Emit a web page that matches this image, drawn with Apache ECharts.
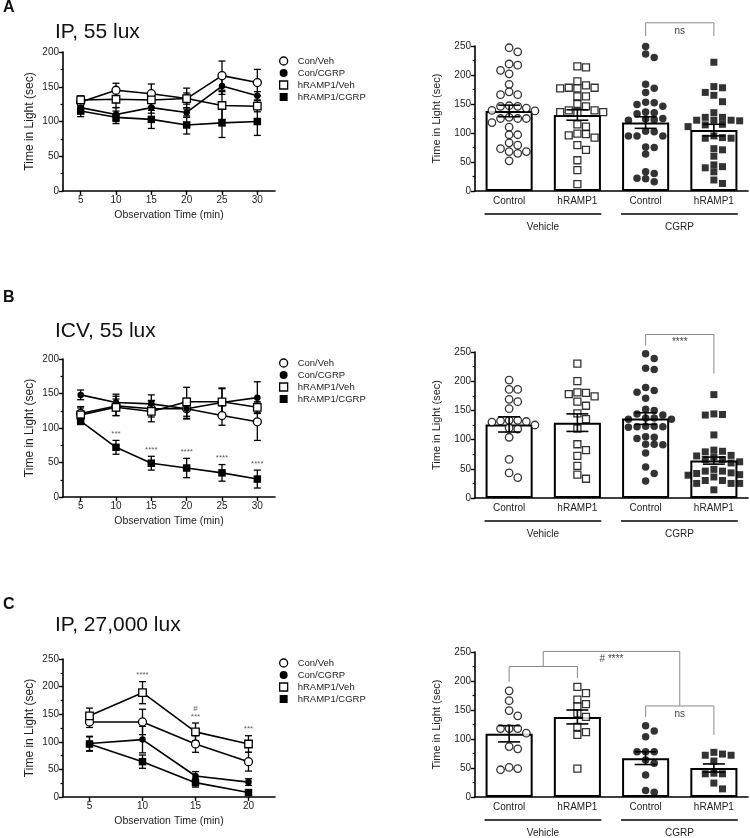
<!DOCTYPE html>
<html><head><meta charset="utf-8">
<script src="https://cdn.jsdelivr.net/npm/echarts@6/dist/echarts.min.js"></script>
<style>html,body{margin:0;padding:0;background:#fff}#c{width:750px;height:838px}</style>
</head><body><div id="c"></div>
<script>
// ================= DATA =================
const panelLetters = ['A', 'B', 'C'];
const panelTitles = ['IP, 55 lux', 'ICV, 55 lux', 'IP, 27,000 lux'];
const seriesNames = ['Con/Veh', 'Con/CGRP', 'hRAMP1/Veh', 'hRAMP1/CGRP'];
const barCategories = ['Control', 'hRAMP1', 'Control', 'hRAMP1'];
const groupLabels = ['Vehicle', 'CGRP'];

// Time-course panels
const timeA = ['5', '10', '15', '20', '25', '30'];
const aConVeh = [128, 145, 140, 133, 166, 156];
const aConVehSem = [6, 10, 14, 15, 21, 19];
const aConCgrp = [120, 110, 120, 113, 151, 137];
const aConCgrpSem = [8, 10, 8, 7, 12, 6];
const aRampVeh = [131, 132, 131, 133, 123, 122];
const aRampVehSem = [6, 12, 10, 8, 20, 8];
const aRampCgrp = [115, 106, 103, 95, 98, 100];
const aRampCgrpSem = [8, 9, 13, 13, 21, 20];

const timeB = ['5', '10', '15', '20', '25', '30'];
const bConVeh = [121, 132, 128, 128, 118, 109];
const bConVehSem = [8, 14, 12, 14, 14, 27];
const bConCgrp = [148, 137, 135, 128, 137, 144];
const bConCgrpSem = [7, 12, 13, 15, 20, 23];
const bRampVeh = [119, 130, 124, 138, 138, 130];
const bRampVehSem = [12, 12, 15, 21, 20, 8];
const bRampCgrp = [110, 72, 49, 42, 35, 26];
const bRampCgrpSem = [5, 10, 10, 14, 12, 13];
const bStars = ['', '***', '****', '****', '****', '****'];

const timeC = ['5', '10', '15', '20'];
const cConVeh = [136, 136, 96, 64];
const cConVehSem = [10, 23, 15, 17];
const cConCgrp = [97, 104, 38, 27];
const cConCgrpSem = [13, 24, 8, 6];
const cRampVeh = [147, 189, 118, 96];
const cRampVehSem = [14, 20, 16, 15];
const cRampCgrp = [96, 64, 26, 8];
const cRampCgrpSem = [13, 12, 8, 5];
const cStars = ['', '****', '#\n***', '***'];

// Scatter-bar panels (bar = mean, sem, individual animals)
const aBarMean = [138, 131, 118, 105];
const aBarSem = [10, 9, 10, 10];
const aVehCtrl = [247, 240, 219, 217, 208, 202, 184, 171, 166, 166, 147, 146, 146, 143, 139, 138, 127, 125, 125, 125, 118, 110, 97, 97, 83, 79, 73, 68, 68, 65, 52];
const aVehRamp = [215, 213, 189, 182, 178, 177, 177, 178, 163, 163, 150, 146, 139, 136, 136, 136, 139, 115, 111, 99, 98, 96, 92, 79, 71, 53, 36, 12];
const aCgrpCtrl = [249, 236, 230, 184, 177, 170, 153, 152, 149, 146, 136, 135, 133, 125, 124, 123, 122, 103, 102, 95, 95, 95, 76, 75, 64, 33, 30, 22, 21, 16];
const aCgrpRamp = [222, 180, 178, 170, 165, 154, 135, 127, 127, 122, 122, 121, 122, 115, 114, 111, 95, 91, 91, 92, 73, 71, 60, 45, 42, 40, 33, 19, 13];

const bBarMean = [126, 129, 136, 64];
const bBarSem = [13, 15, 10, 6];
const bVehCtrl = [202, 186, 186, 169, 165, 153, 131, 130, 132, 133, 133, 125, 120, 118, 104, 66, 43, 35];
const bVehRamp = [230, 200, 181, 180, 178, 174, 165, 158, 145, 135, 119, 92, 82, 72, 55, 40, 33];
const bCgrpCtrl = [247, 239, 222, 220, 189, 184, 181, 171, 152, 150, 144, 142, 137, 137, 135, 135, 123, 123, 122, 122, 121, 105, 104, 102, 92, 92, 91, 77, 53, 42, 29];
const bCgrpRamp = [177, 144, 143, 142, 108, 82, 80, 79, 73, 72, 70, 66, 66, 62, 60, 49, 46, 46, 43, 42, 40, 39, 36, 30, 30, 25, 25, 25, 14];

const cBarMean = [109, 138, 67, 50];
const cBarSem = [14, 12, 11, 7];
const cVehCtrl = [183, 166, 149, 140, 118, 118, 118, 110, 87, 83, 51, 47, 49];
const cVehRamp = [190, 179, 168, 160, 156, 144, 138, 121, 112, 107, 49];
const cCgrpCtrl = [123, 114, 104, 78, 78, 78, 64, 58, 38, 11, 8];
const cCgrpRamp = [77, 74, 72, 72, 62, 41, 40, 40, 24, 14];

// Significance brackets (x in category units 0..4, y in data units)
const aBrackets = [{x1: 2.5, x2: 3.5, top: 290, y1: 267, y2: 267, text: 'ns'}];
const bBrackets = [{x1: 2.5, x2: 3.5, top: 280, y1: 261, y2: 213, text: '****'}];
const cBrackets = [
  {x1: 0.5, x2: 1.5, top: 225, y1: 198, y2: 205, text: ''},
  {x1: 2.5, x2: 3.5, top: 157, y1: 138, y2: 107, text: 'ns'},
  {x1: 1.0, x2: 3.0, top: 251, y1: 225, y2: 157, text: '# ****'}
];

// ================= CHART =================
const FONT = 'Liberation Sans, Arial, Helvetica, sans-serif';
const chart = echarts.init(document.getElementById('c'), null, {renderer: 'canvas'});

const leftGrids = [
  {left: 63, top: 52, width: 212, height: 139},
  {left: 63, top: 359, width: 212, height: 138},
  {left: 63, top: 659, width: 212, height: 138}
];
const rightGrids = [
  {left: 475, top: 46, width: 273, height: 145},
  {left: 475, top: 352, width: 273, height: 146},
  {left: 475, top: 652, width: 273, height: 145}
];
const leftMax = [200, 200, 250];
const legendTops = [56, 358, 658];
const titleTops = [22, 321, 615];
const letterTops = [0, 290, 597];

const panels = [
  {cats: timeA, groups: [[aConVeh, aConVehSem], [aConCgrp, aConCgrpSem], [aRampVeh, aRampVehSem], [aRampCgrp, aRampCgrpSem]], stars: null,
   bar: aBarMean, sem: aBarSem, pts: [aVehCtrl, aVehRamp, aCgrpCtrl, aCgrpRamp], brackets: aBrackets},
  {cats: timeB, groups: [[bConVeh, bConVehSem], [bConCgrp, bConCgrpSem], [bRampVeh, bRampVehSem], [bRampCgrp, bRampCgrpSem]], stars: {txt: bStars, ref: 3},
   bar: bBarMean, sem: bBarSem, pts: [bVehCtrl, bVehRamp, bCgrpCtrl, bCgrpRamp], brackets: bBrackets},
  {cats: timeC, groups: [[cConVeh, cConVehSem], [cConCgrp, cConCgrpSem], [cRampVeh, cRampVehSem], [cRampCgrp, cRampCgrpSem]], stars: {txt: cStars, ref: 2},
   bar: cBarMean, sem: cBarSem, pts: [cVehCtrl, cVehRamp, cCgrpCtrl, cCgrpRamp], brackets: cBrackets}
];

const lineStyles = [
  {symbol: 'circle', filled: false, size: 8},
  {symbol: 'circle', filled: true, size: 6.5},
  {symbol: 'rect', filled: false, size: 7.5},
  {symbol: 'rect', filled: true, size: 7.5}
];
const dotStyles = [
  {symbol: 'circle', filled: false, size: 7.5},
  {symbol: 'rect', filled: false, size: 7},
  {symbol: 'circle', filled: true, size: 7.5},
  {symbol: 'rect', filled: true, size: 7}
];
function symItem(st) {
  return st.filled ? {color: '#000', borderColor: '#000', borderWidth: 0}
                   : {color: '#fff', borderColor: '#000', borderWidth: 1.3};
}

const axisLineS = {show: true, lineStyle: {color: '#000', width: 1.6}};
const axisTickS = {show: true, length: 4, lineStyle: {color: '#000', width: 1.4}};
const minorTickS = {show: true, splitNumber: 2, length: 2.5, lineStyle: {color: '#000', width: 1.2}};
const labelS = {fontSize: 10, color: '#222', margin: 4, fontFamily: FONT};
const nameS = {fontSize: 10.5, color: '#222', fontFamily: FONT};

function errRender(capPx, lw) {
  return function (params, api) {
    const x = api.value(0), m = api.value(1), s = api.value(2);
    const t = api.coord([x, m + s]), b = api.coord([x, m - s]);
    const style = {stroke: '#000', lineWidth: lw};
    return {type: 'group', children: [
      {type: 'line', shape: {x1: t[0], y1: t[1], x2: b[0], y2: b[1]}, style: style},
      {type: 'line', shape: {x1: t[0] - capPx / 2, y1: t[1], x2: t[0] + capPx / 2, y2: t[1]}, style: style},
      {type: 'line', shape: {x1: b[0] - capPx / 2, y1: b[1], x2: b[0] + capPx / 2, y2: b[1]}, style: style}
    ]};
  };
}

// row-style beeswarm: dots collide when closer than dxMin horizontally AND dyMin vertically
function swarm(values, pxPerY, pxPerCat, dxMin, dyMin) {
  const order = values.map((v, i) => i).sort((a, b) => values[b] - values[a]);
  const placed = [];
  const out = new Array(values.length);
  order.forEach(i => {
    const y = values[i] * pxPerY;
    const near = placed.filter(p => Math.abs(p.y - y) < dyMin);
    const cands = [0];
    near.forEach(p => { cands.push(p.x + dxMin, p.x - dxMin); });
    cands.sort((a, b) => Math.abs(a) - Math.abs(b) || b - a);
    let x = 0;
    for (const c of cands) {
      if (near.every(p => Math.abs(p.x - c) >= dxMin - 0.01)) { x = c; break; }
    }
    placed.push({x: x, y: y});
    out[i] = x / pxPerCat;
  });
  return out;
}

const grid = [], xAxis = [], yAxis = [], series = [], legend = [], title = [];
const sqPath = 'path://M0 0H10V10H0Z';

panels.forEach((P, p) => {
  const gl = 2 * p, gr = 2 * p + 1;
  const xl = 3 * p, xrc = 3 * p + 1, xrv = 3 * p + 2;
  const yl = 2 * p, yr = 2 * p + 1;
  grid.push(leftGrids[p], rightGrids[p]);

  xAxis.push({type: 'category', gridIndex: gl, data: P.cats, boundaryGap: true,
    axisLine: axisLineS, axisTick: Object.assign({alignWithLabel: true}, axisTickS), axisLabel: labelS,
    name: 'Observation Time (min)', nameLocation: 'middle', nameGap: 19, nameTextStyle: nameS});
  xAxis.push({type: 'category', gridIndex: gr, data: barCategories, boundaryGap: true,
    axisLine: axisLineS, axisTick: {show: false}, axisLabel: Object.assign({}, labelS, {margin: 5})});
  xAxis.push({type: 'value', gridIndex: gr, min: 0, max: 4, show: false});

  yAxis.push({type: 'value', gridIndex: gl, min: 0, max: leftMax[p], interval: 50,
    axisLine: axisLineS, axisTick: axisTickS, minorTick: minorTickS, splitLine: {show: false}, axisLabel: labelS,
    name: 'Time in Light (sec)', nameLocation: 'middle', nameGap: 27,
    nameTextStyle: Object.assign({}, nameS, {fontSize: 12})});
  yAxis.push({type: 'value', gridIndex: gr, min: 0, max: 250, interval: 50,
    axisLine: axisLineS, axisTick: axisTickS, minorTick: minorTickS, splitLine: {show: false}, axisLabel: labelS,
    name: 'Time in Light (sec)', nameLocation: 'middle', nameGap: 33,
    nameTextStyle: Object.assign({}, nameS, {fontSize: 11})});

  // time course lines + error bars
  P.groups.forEach((gdat, k) => {
    const st = lineStyles[k];
    series.push({type: 'custom', xAxisIndex: xl, yAxisIndex: yl, z: 2, silent: true,
      renderItem: errRender(7, 1.3), data: gdat[0].map((m, i) => [i, m, gdat[1][i]]), encode: {x: 0, y: 1}});
    series.push({type: 'line', name: seriesNames[k], xAxisIndex: xl, yAxisIndex: yl, z: 3,
      data: gdat[0], symbol: st.symbol, symbolSize: st.size, showAllSymbol: true,
      lineStyle: {color: '#000', width: 1.6}, itemStyle: symItem(st), emphasis: {disabled: true}});
  });
  if (P.stars) {
    const ref = P.groups[P.stars.ref];
    series.push({type: 'scatter', xAxisIndex: xl, yAxisIndex: yl, symbolSize: 1, silent: true, z: 4,
      itemStyle: {color: 'rgba(0,0,0,0)'},
      data: P.stars.txt.map((t, i) => ({value: [i, ref[0][i] + ref[1][i]], label: {show: !!t, formatter: t}})),
      label: {position: 'top', distance: 2, fontSize: 8, lineHeight: 8, color: '#333', fontFamily: FONT}});
  }

  // bars
  series.push({type: 'bar', xAxisIndex: xrc, yAxisIndex: yr, data: P.bar, barWidth: '69%', z: 1,
    itemStyle: {color: '#fff', borderColor: '#000', borderWidth: 2}, emphasis: {disabled: true}});
  const pxY = rightGrids[p].height / 250, pxCat = rightGrids[p].width / 4;
  P.pts.forEach((vals, k) => {
    const st = dotStyles[k];
    const off = swarm(vals, pxY, pxCat, 8.6, 6.5);
    series.push({type: 'scatter', xAxisIndex: xrv, yAxisIndex: yr, z: 3, symbol: st.symbol, symbolSize: st.size,
      itemStyle: symItem(st), emphasis: {disabled: true},
      data: vals.map((v, i) => [k + 0.5 + off[i], v])});
  });
  series.push({type: 'custom', xAxisIndex: xrc, yAxisIndex: yr, z: 5, silent: true,
    renderItem: errRender(22, 1.6), data: P.bar.map((m, i) => [i, m, P.sem[i]]), encode: {x: 0, y: 1}});

  legend.push({orient: 'vertical', left: 279, top: legendTops[p], padding: 0, itemGap: 2,
    itemWidth: 18, itemHeight: 8, textStyle: {fontSize: 9.5, color: '#222', fontFamily: FONT},
    selectedMode: false,
    data: seriesNames.map((n, k) => ({name: n, icon: lineStyles[k].symbol === 'circle' ? 'circle' : sqPath,
      itemStyle: symItem(lineStyles[k])}))});

  title.push({text: panelLetters[p], left: 3, top: letterTops[p], padding: 0,
    textStyle: {fontSize: 16, fontWeight: 'bold', color: '#111', fontFamily: FONT}});
  title.push({text: panelTitles[p], left: 55, top: titleTops[p], padding: 0,
    textStyle: {fontSize: 21, fontWeight: 'normal', color: '#111', fontFamily: FONT}});
});

chart.setOption({animation: false, backgroundColor: '#fff', textStyle: {fontFamily: FONT},
  title: title, legend: legend, grid: grid, xAxis: xAxis, yAxis: yAxis, series: series});

// annotations (group lines, brackets) positioned through axis scales
const graphic = [];
panels.forEach((P, p) => {
  const xv = 3 * p + 2, yr = 2 * p + 1;
  const X = v => chart.convertToPixel({xAxisIndex: xv}, v);
  const Y = v => chart.convertToPixel({yAxisIndex: yr}, v);
  const y0 = Y(0);
  groupLabels.forEach((lab, gi) => {
    const x1 = X(2 * gi + 0.14), x2 = X(2 * gi + 1.85);
    graphic.push({type: 'line', silent: true, shape: {x1: x1, y1: y0 + 23, x2: x2, y2: y0 + 23},
      style: {stroke: '#000', lineWidth: 1.5}});
    graphic.push({type: 'text', silent: true, x: (x1 + x2) / 2, y: y0 + 36,
      style: {text: lab, fontSize: 10, fontFamily: FONT, fill: '#222', align: 'center', verticalAlign: 'middle'}});
  });
  P.brackets.forEach(b => {
    const xa = X(b.x1), xb = X(b.x2), yt = Y(b.top);
    graphic.push({type: 'polyline', silent: true,
      shape: {points: [[xa, Y(b.y1)], [xa, yt], [xb, yt], [xb, Y(b.y2)]]},
      style: {stroke: '#8a8a8a', lineWidth: 1, fill: 'none'}});
    if (b.text) graphic.push({type: 'text', silent: true, x: (xa + xb) / 2, y: yt + 3,
      style: {text: b.text, fontSize: 10, fontFamily: FONT, fill: '#444', align: 'center', verticalAlign: 'top'}});
  });
});
chart.setOption({graphic: graphic});
</script>
</body></html>
